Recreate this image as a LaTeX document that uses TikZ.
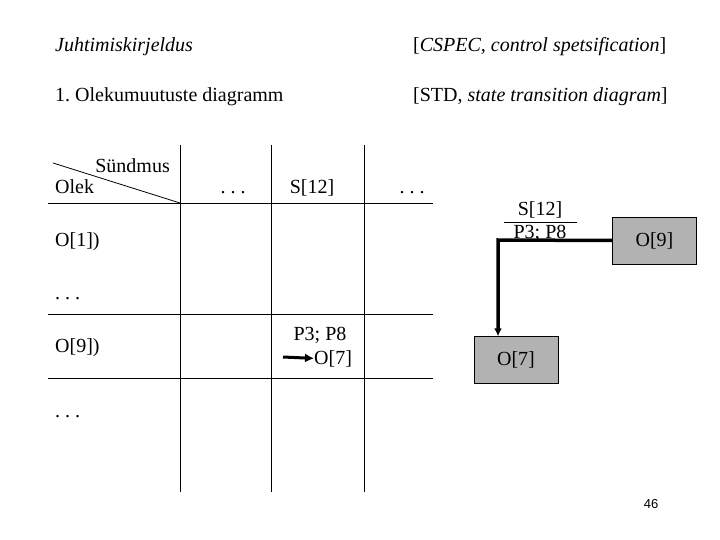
\documentclass[tikz,border=0pt]{standalone}
\usepackage{fontspec}
\setmainfont{Liberation Serif}
\setsansfont{Liberation Sans}
\usetikzlibrary{arrows.meta, positioning}

\begin{document}
\begin{tikzpicture}[x=1pt, y=-1pt,
    txt/.style={anchor=base west, inner sep=0pt, font=\fontsize{20}{24}\selectfont},
    mid/.style={anchor=base, inner sep=0pt, font=\fontsize{20}{24}\selectfont},
    state/.style={rectangle, draw, fill=black!30, minimum width=84pt, minimum height=47pt, font=\fontsize{20}{24}\selectfont},
    grid/.style={line width=0.8pt}]

    \useasboundingbox (0,0) rectangle (720,540);

    % headings
    \node[txt] (cspec) at (55,52) {\itshape Juhtimiskirjeldus};
    \node[txt] (cspecen) at (413,52) {[\textit{CSPEC, control spetsification}]};
    \node[txt] (std) at (55,102) {1.\ Olekumuutuste diagramm};
    \node[txt] (stden) at (413,102) {[STD, \textit{state transition diagram}]};

    % table
    \draw[grid] (48,203) -- (433,203);
    \draw[grid] (48,314) -- (433,314);
    \draw[grid] (48,378) -- (433,378);
    \draw[grid] (180,145) -- (180,492);
    \draw[grid] (271,145) -- (271,492);
    \draw[grid] (364,145) -- (364,492);
    \draw[grid] (53,163) -- (180,203);

    \node[txt, anchor=base east] (event) at (170,173) {Sündmus};
    \node[txt] (olek) at (55,194) {Olek};
    \node[mid] (dots1) at (233,194) {.\ .\ .};
    \node[mid] (s12) at (312,194) {S[12]};
    \node[mid] (dots2) at (412,194) {.\ .\ .};
    \node[txt] (o1) at (55,247) {O[1])};
    \node[txt] (dots3) at (55,299) {.\ .\ .};
    \node[txt] (o9) at (55,352) {O[9])};
    \node[mid] (act) at (320,340) {P3; P8};
    \node[txt] (o7) at (314,364) {O[7]};
    \coordinate (arr) at (283,357);
    \draw[-{Latex[length=9pt,width=9pt]}, line width=3pt] (arr) -- (o7.west);
    \node[txt] (dots4) at (55,417) {.\ .\ .};

    % state diagram
    \node[state] (s9) at (654.5,240.5) {O[9]};
    \node[state] (s7) at (516,360) {O[7]};
    \coordinate (bend) at (498,240);
    \draw[line width=3.5pt, -{Latex[length=8pt,width=8pt]}] (s9.west) -- (bend) -- (bend |- s7.north);

    \node[mid] (cond) at (540,215) {S[12]};
    \node[mid] (actn) at (540,239) {P3; P8};
    \draw[line width=0.8pt] (504,222) -- (577,222);

    \node[font=\sffamily\fontsize{13}{15}\selectfont, inner sep=0pt] (page) at (651,504) {46};
\end{tikzpicture}
\end{document}
